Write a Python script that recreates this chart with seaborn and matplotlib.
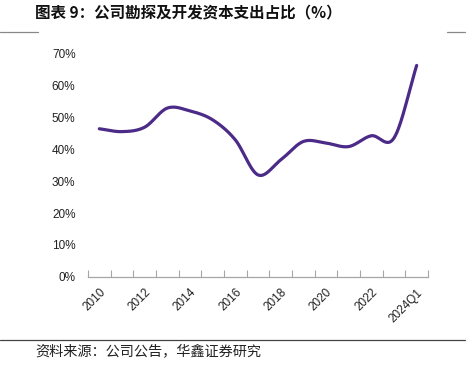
import numpy as np
import pandas as pd
import matplotlib
matplotlib.use("Agg")
import matplotlib.pyplot as plt
import seaborn as sns
from matplotlib.ticker import PercentFormatter, FixedLocator

categories = ["2010", "2011", "2012", "2013", "2014", "2015", "2016", "2017",
              "2018", "2019", "2020", "2021", "2022", "2023", "2024Q1"]
values = [46.5, 45.6, 47.0, 53.0, 52.1, 49.3, 43.0, 32.0,
          36.7, 42.5, 42.0, 40.9, 44.3, 43.6, 66.4]
shown_labels = ["2010", "2012", "2014", "2016", "2018", "2020", "2022", "2024Q1"]

sns.set_theme(style="white")
plt.rcParams['font.family'] = ['Liberation Sans', 'Noto Sans CJK SC', 'DejaVu Sans']

# Smoothed (Excel-style) curve through the data points, Catmull-Rom
def smooth(x, y, n=30):
    x = np.asarray(x, float); y = np.asarray(y, float)
    px = np.concatenate([[2*x[0]-x[1]], x, [2*x[-1]-x[-2]]])
    py = np.concatenate([[2*y[0]-y[1]], y, [2*y[-1]-y[-2]]])
    xs, ys = [], []
    for i in range(1, len(px)-2):
        t = np.linspace(0, 1, n, endpoint=False)
        for arr, out in ((px, xs), (py, ys)):
            p0, p1, p2, p3 = arr[i-1], arr[i], arr[i+1], arr[i+2]
            m1 = (p2 - p0) / 2
            m2 = (p3 - p1) / 2
            h00 = 2*t**3 - 3*t**2 + 1; h10 = t**3 - 2*t**2 + t
            h01 = -2*t**3 + 3*t**2; h11 = t**3 - t**2
            out.extend(h00*p1 + h10*m1 + h01*p2 + h11*m2)
    xs.append(x[-1]); ys.append(y[-1])
    return np.array(xs), np.array(ys)

xpos = np.arange(len(categories))
sx, sy = smooth(xpos, values)
df = pd.DataFrame({"x": sx, "y": sy})

fig = plt.figure(figsize=(4.70, 3.69), dpi=100)
ax = fig.add_axes([88/470, 1-276.7/369, (428-88)/470, (276.7-54)/369])
sns.lineplot(data=df, x="x", y="y", ax=ax, color="#4B2A88", linewidth=2.3,
             sort=False, estimator=None)

ax.set_xlim(-0.5, len(categories)-0.5)
ax.set_ylim(0, 70)
ax.yaxis.set_major_formatter(PercentFormatter(decimals=0))
ax.set_yticks(np.arange(0, 71, 10))
ax.tick_params(axis='y', length=0, labelsize=8.5, colors='#222222', pad=9)

# boundary ticks on x
ax.xaxis.set_minor_locator(FixedLocator(np.arange(-0.5, len(categories), 1)))
label_pos = [categories.index(l) for l in shown_labels]
ax.set_xticks(label_pos)
ax.set_xticklabels(shown_labels, rotation=45, ha='right', rotation_mode='anchor',
                   fontsize=8.5, color='#222222')
ax.tick_params(axis='x', which='major', length=0, pad=7)
ax.tick_params(axis='x', which='minor', direction='in', length=5, width=0.8,
               color='#A6A6A6', bottom=True)
ax.set_xlabel(""); ax.set_ylabel("")
for s in ['top', 'right', 'left']:
    ax.spines[s].set_visible(False)
ax.spines['bottom'].set_color('#A6A6A6')
ax.spines['bottom'].set_linewidth(0.9)

fig.text(35/470, 1-12/369, "图表 9：公司勘探及开发资本支出占比（%）",
         fontsize=11.2, fontweight='bold', va='center', ha='left',
         family=['Noto Sans CJK SC', 'DejaVu Sans'], color='#111111')
fig.add_artist(plt.Line2D([0, 38/470], [1-32/369]*2, color='#888888', lw=0.9))
fig.add_artist(plt.Line2D([447/470, 465/470], [1-32/369]*2, color='#888888', lw=0.9))
fig.add_artist(plt.Line2D([0, 465/470], [1-340/369]*2, color='#444444', lw=0.9))
fig.text(35/470, 1-352/369, "资料来源：公司公告，华鑫证券研究",
         fontsize=10.2, va='center', ha='left',
         family=['Noto Sans CJK SC', 'DejaVu Sans'], color='#222222')

fig.savefig("out.png", dpi=100)
